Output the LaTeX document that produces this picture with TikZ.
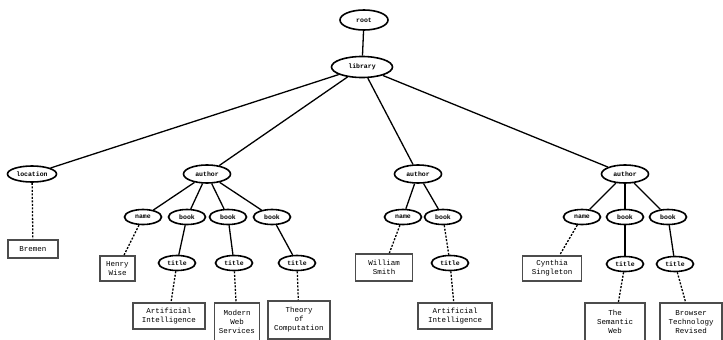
\documentclass[tikz,border=0pt]{standalone}
\usepackage{fontspec}
\setmonofont{Liberation Mono}
\usetikzlibrary{shapes.geometric}
\tikzset{
  el/.style={ellipse, draw, line width=1.6pt, inner sep=0pt, minimum width=37pt, minimum height=15pt, font=\fontsize{6.5}{7}\selectfont\ttfamily\bfseries},
  bigel/.style={el, minimum width=47pt, minimum height=18pt},
  leaf/.style={draw=black!70, line width=1.5pt, inner sep=2pt, align=center, anchor=north, font=\fontsize{7.5}{9}\selectfont\ttfamily},
  con/.style={line width=1.3pt},
  dcon/.style={line width=1.3pt, dash pattern=on 2pt off 1.5pt},
}
\begin{document}
\begin{tikzpicture}[x=1pt,y=-1pt]
\useasboundingbox (0,0) rectangle (723,340);
% ellipses
\node[bigel, minimum width=48pt, minimum height=20pt] (root) at (364,20) {root};
\node[bigel, minimum width=61pt, minimum height=21pt] (library) at (362,67) {library};
\node[bigel, minimum width=49pt, minimum height=16pt] (location) at (32,174) {location};
\node[bigel] (a1) at (207,174) {author};
\node[bigel] (a2) at (418,174) {author};
\node[bigel] (a3) at (625,174) {author};
\node[el] (n1) at (143,217) {name};
\node[el] (b1a) at (187,217) {book};
\node[el] (b1b) at (228,217) {book};
\node[el] (b1c) at (272,217) {book};
\node[el] (n2) at (403,217) {name};
\node[el] (b2) at (443,217) {book};
\node[el] (n3) at (582,217) {name};
\node[el] (b3a) at (625,217) {book};
\node[el] (b3b) at (668,217) {book};
\node[el] (t1a) at (177,263) {title};
\node[el] (t1b) at (234,263) {title};
\node[el] (t1c) at (297,263) {title};
\node[el] (t2) at (450,263) {title};
\node[el] (t3a) at (625,264) {title};
\node[el] (t3b) at (675,264) {title};
% leaf boxes
\node[leaf, minimum width=50pt, minimum height=18pt] (bremen) at (33,239) {Bremen};
\node[leaf, minimum width=35pt, minimum height=25pt] (henry) at (117.5,255) {Henry\\Wise};
\node[leaf, minimum width=72pt, minimum height=26pt] (ai1) at (169,302) {Artificial\\Intelligence};
\node[leaf, minimum width=45pt, minimum height=38pt] (mws) at (237,302) {Modern\\Web\\Services};
\node[leaf, minimum width=62pt, minimum height=38pt] (toc) at (299,300) {Theory\\of\\Computation};
\node[leaf, minimum width=57pt, minimum height=27pt] (ws) at (384,253) {William\\Smith};
\node[leaf, minimum width=74pt, minimum height=26pt] (ai2) at (455,302) {Artificial\\Intelligence};
\node[leaf, minimum width=59pt, minimum height=25pt] (cyn) at (552,255) {Cynthia\\Singleton};
\node[leaf, minimum width=60pt, minimum height=38pt] (sem) at (615,302) {The\\Semantic\\Web};
\node[leaf, minimum width=62pt, minimum height=38pt] (brow) at (691,302) {Browser\\Technology\\Revised};
% connectors
\draw[con] (root) -- (library);
\draw[con] (library) -- (location);
\draw[con] (library) -- (a1);
\draw[con] (library) -- (a2);
\draw[con] (library) -- (a3);
\draw[dcon] (location) -- (bremen);
\draw[con] (a1) -- (n1);
\draw[con] (a1) -- (b1a);
\draw[con] (a1) -- (b1b);
\draw[con] (a1) -- (b1c);
\draw[dcon] (n1) -- (henry);
\draw[con] (b1a) -- (t1a);
\draw[con] (b1b) -- (t1b);
\draw[con] (b1c) -- (t1c);
\draw[dcon] (t1a) -- (ai1);
\draw[dcon] (t1b) -- (mws);
\draw[dcon] (t1c) -- (toc);
\draw[con] (a2) -- (n2);
\draw[con] (a2) -- (b2);
\draw[dcon] (n2) -- (ws);
\draw[dcon] (b2) -- (t2);
\draw[dcon] (t2) -- (ai2);
\draw[con] (a3) -- (n3);
\draw[con] (a3) -- (b3a);
\draw[con] (a3) -- (b3b);
\draw[dcon] (n3) -- (cyn);
\draw[con] (b3a) -- (t3a);
\draw[con] (b3b) -- (t3b);
\draw[dcon] (t3a) -- (sem);
\draw[dcon] (t3b) -- (brow);
\end{tikzpicture}
\end{document}
